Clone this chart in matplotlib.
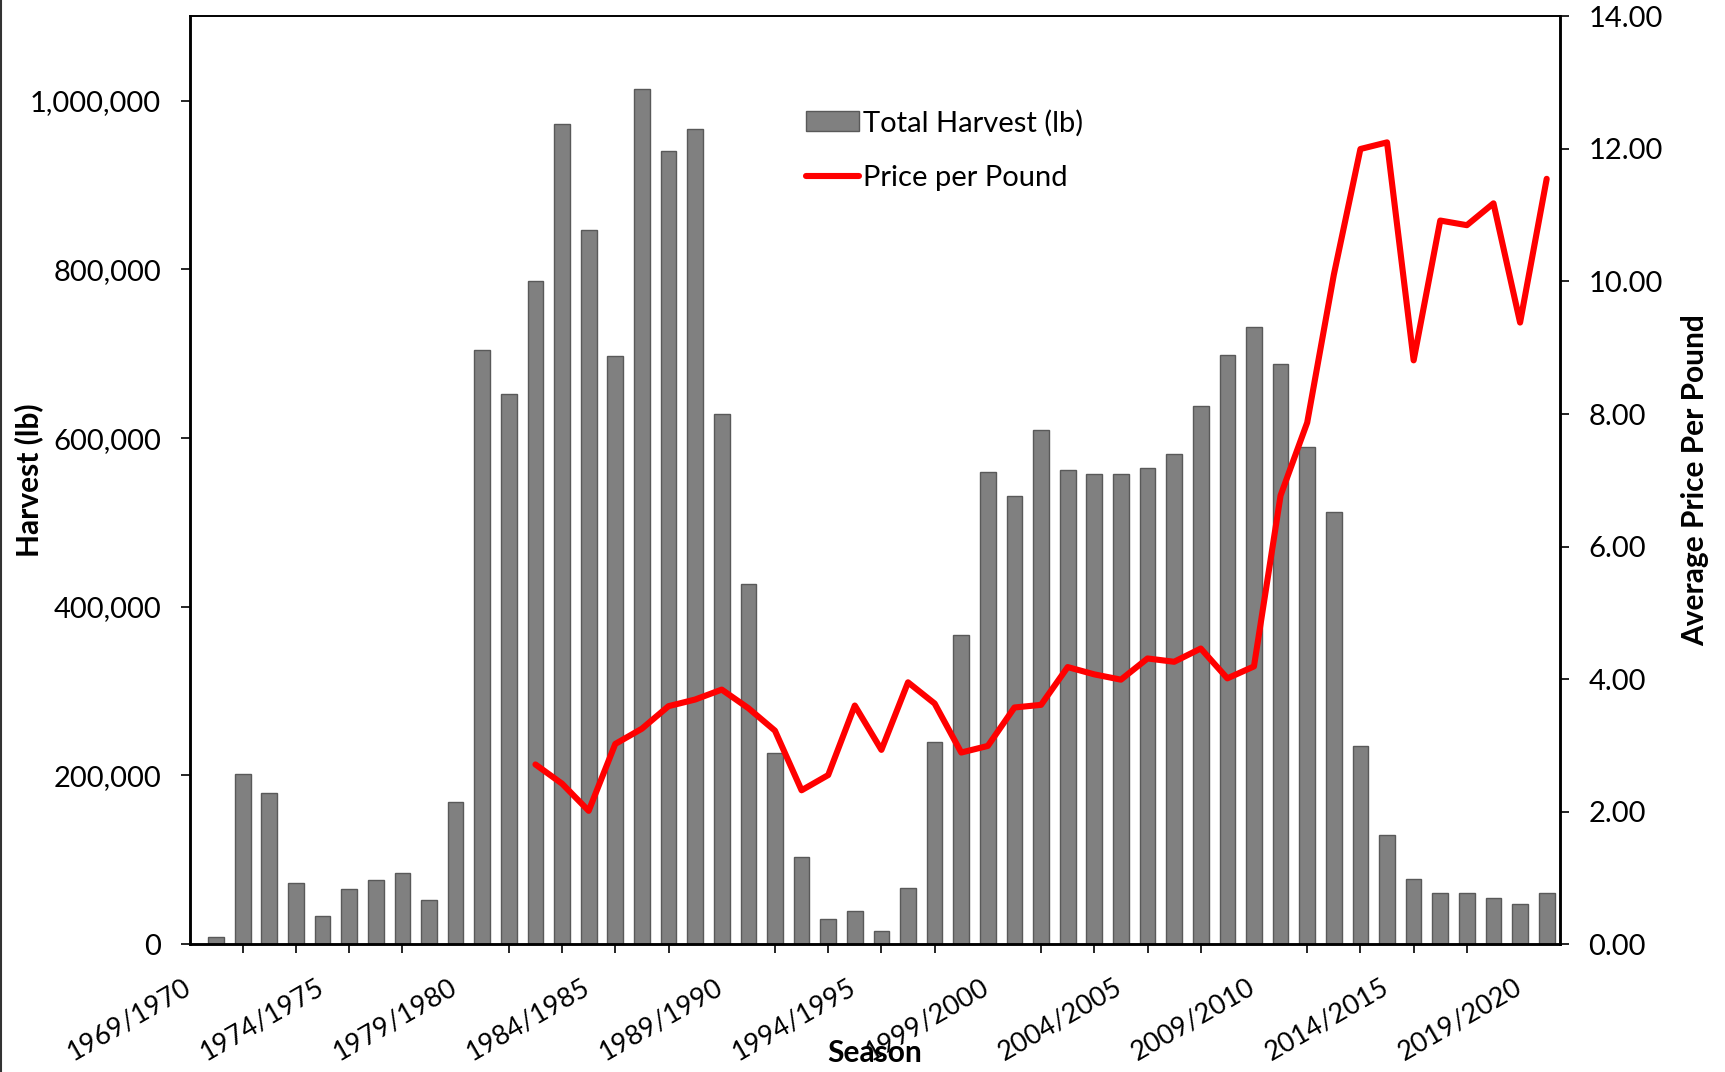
import numpy as np
import matplotlib
matplotlib.use("Agg")
import matplotlib.pyplot as plt
import matplotlib.transforms as mtransforms
from matplotlib.patches import Patch
from matplotlib.lines import Line2D
from matplotlib.ticker import FuncFormatter, FixedLocator

plt.rcParams['font.family'] = ['Lato', 'DejaVu Sans']

# seasons (category axis)
seasons = ["1969/1970", "1970/1971", "1971/1972", "1972/1973", "1973/1974",
           "1974/1975", "1975/1976", "1976/1977", "1977/1978", "1978/1979",
           "1979/1980", "1980/1981", "1981/1982", "1982/1983", "1983/1984",
           "1984/1985", "1985/1986", "1986/1987", "1987/1988", "1988/1989",
           "1989/1990", "1990/1991", "1991/1992", "1992/1993", "1993/1994",
           "1994/1995", "1995/1996", "1996/1997", "1997/1998", "1998/1999",
           "1999/2000", "2000/2001", "2001/2002", "2002/2003", "2003/2004",
           "2004/2005", "2005/2006", "2006/2007", "2007/2008", "2008/2009",
           "2009/2010", "2010/2011", "2011/2012", "2012/2013", "2013/2014",
           "2014/2015", "2015/2016", "2016/2017", "2017/2018", "2018/2019",
           "2019/2020", "2020/2021"]

# total harvest (lb), no bar for the first season
harvest = [np.nan, 8000, 202000, 179000, 72000, 33000, 65000, 76000, 84000, 52000,
           168000, 705000, 652000, 786000, 973000, 847000, 697000, 1014000, 940000, 966000,
           629000, 427000, 227000, 103000, 30000, 39000, 16000, 67000, 240000, 366000,
           560000, 531000, 610000, 562000, 557000, 557000, 564000, 581000, 638000, 698000,
           732000, 688000, 589000, 512000, 235000, 129000, 77000, 61000, 60000, 54000,
           47000, 60000]

# average price per pound ($), series starts in 1982/1983
price = [np.nan] * 13 + [
    2.71, 2.42, 2.01, 3.02, 3.25, 3.59, 3.69, 3.84, 3.56, 3.22,
    2.32, 2.55, 3.60, 2.93, 3.95, 3.63, 2.89, 2.99, 3.57, 3.61,
    4.18, 4.07, 3.99, 4.31, 4.26, 4.46, 4.01, 4.19, 6.77, 7.87,
    10.10, 12.00, 12.10, 8.81, 10.92, 10.85, 11.18, 9.38, 11.55]

x = np.arange(len(seasons))

fig = plt.figure(figsize=(17.25, 10.72), dpi=100)
ax = fig.add_axes([0.10986, 0.1194, 0.79449, 0.86521])
ax2 = ax.twinx()

ax.bar(x, harvest, width=0.59, color='#808080', edgecolor='#595959', linewidth=1.0, zorder=2)
ax2.plot(x, price, color='#ff0000', linewidth=4.4, solid_joinstyle='round',
         solid_capstyle='round', zorder=3)

ax.set_xlim(0, 51.5)
ax.set_ylim(0, 1100000)
ax2.set_ylim(0, 14)

# left axis
ax.set_yticks(np.arange(0, 1000001, 200000))
ax.yaxis.set_major_formatter(FuncFormatter(lambda v, p: f"{int(v):,}"))
ax.tick_params(axis='y', direction='out', length=6.5, width=1.2, pad=14, labelsize=21)

# right axis
ax2.set_yticks(np.arange(0, 14.01, 2))
ax2.yaxis.set_major_formatter(FuncFormatter(lambda v, p: f"{v:.2f}"))
ax2.tick_params(axis='y', direction='out', length=6.5, width=1.2, pad=14, labelsize=21)

# x axis: tick marks every 2 seasons, labels every 5 seasons
ax.xaxis.set_minor_locator(FixedLocator(x[::2]))
ax.set_xticks(x[::5])
ax.set_xticklabels([seasons[i] for i in x[::5]], rotation=30, ha='right', va='top',
                   rotation_mode='anchor', fontsize=19.5)
ax.tick_params(axis='x', which='major', length=0, pad=22)
ax.tick_params(axis='x', which='minor', direction='out', length=6.5, width=1.2)
shift = mtransforms.ScaledTranslation(-5 / 72, 0, fig.dpi_scale_trans)
for lbl in ax.get_xticklabels():
    lbl.set_transform(lbl.get_transform() + shift)

for a in (ax, ax2):
    for side in ('left', 'right', 'bottom'):
        a.spines[side].set_linewidth(1.8)
    a.spines['top'].set_linewidth(1.2)

ax.set_xlabel("Season", fontsize=21.5, fontweight='bold', va='center')
ax.xaxis.set_label_coords(0.5, -0.1175)
ax.set_ylabel("Harvest (lb)", fontsize=21.5, fontweight='bold', va='center')
ax.yaxis.set_label_coords(-0.1176, 0.5)
ax2.set_ylabel("Average Price Per Pound", fontsize=21.5, fontweight='bold', va='center')
ax2.yaxis.set_label_coords(1.0987, 0.5)

handles = [Patch(facecolor='#808080', edgecolor='#595959', linewidth=1.0),
           Line2D([0], [0], color='#ff0000', linewidth=4.4, solid_capstyle='round')]
ax2.legend(handles, ["Total Harvest (lb)", "Price per Pound"], loc='upper left',
           bbox_to_anchor=(0.4673, 0.8979), bbox_transform=fig.transFigure,
           frameon=False, fontsize=21, handlelength=1.81, handleheight=0.7,
           handletextpad=0.15, labelspacing=0.98, borderpad=0, borderaxespad=0)

# thin border on the left edge of the image
fig.add_artist(Line2D([0.0008, 0.0008], [0, 1], color='#333333', linewidth=1.5,
                      transform=fig.transFigure))

fig.savefig("out.png", dpi=100)
